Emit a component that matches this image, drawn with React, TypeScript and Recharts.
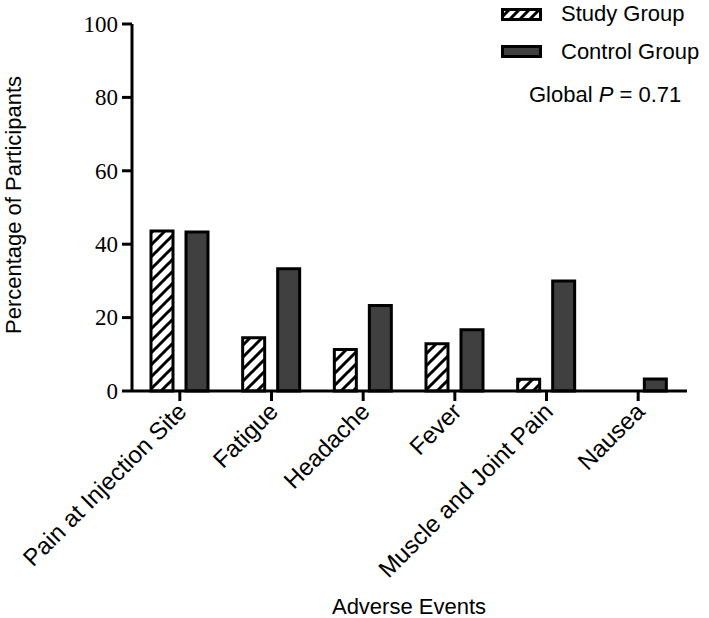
import React from "react";
import { BarChart, Bar, XAxis, YAxis } from "recharts";

const categories = [
  "Pain at Injection Site",
  "Fatigue",
  "Headache",
  "Fever",
  "Muscle and Joint Pain",
  "Nausea",
];
const studyGroup = [43.6, 14.5, 11.3, 12.9, 3.2, 0];
const controlGroup = [43.3, 33.3, 23.3, 16.7, 30.0, 3.3];
const yTicks = [0, 20, 40, 60, 80, 100];

const data = categories.map((name, i) => ({
  name,
  study: studyGroup[i],
  control: controlGroup[i],
}));

const SANS = "'Liberation Sans', Arial, sans-serif";
const SERIF = "'Liberation Serif', 'Times New Roman', serif";

const XTick = (props: any) => {
  const { x, y, payload } = props;
  return (
    <g transform={`translate(${x + 8},${y + 12})`}>
      <text
        x={0}
        y={0}
        textAnchor="end"
        transform="rotate(-45)"
        fontFamily={SANS}
        fontSize={24}
        fill="#000"
      >
        {payload.value}
      </text>
    </g>
  );
};

const YTick = (props: any) => {
  const { x, y, payload } = props;
  return (
    <text
      x={x - 2}
      y={y}
      dy="0.34em"
      textAnchor="end"
      fontFamily={SERIF}
      fontSize={23}
      fill="#000"
    >
      {payload.value}
    </text>
  );
};

const XLabel = () => (
  <text x={409} y={614} textAnchor="middle" fontFamily={SANS} fontSize={22} fill="#000">
    Adverse Events
  </text>
);

const YLabel = () => (
  <text
    transform="translate(21,205) rotate(-90)"
    textAnchor="middle"
    fontFamily={SANS}
    fontSize={22}
    fill="#000"
  >
    Percentage of Participants
  </text>
);

const LegendOverlay = () => (
  <svg width={220} height={110} style={{ position: "absolute", left: 489, top: 0, display: "block" }}>
    <defs>
      <pattern id="hatchLegend" patternUnits="userSpaceOnUse" width="10" height="10">
        <rect width="10" height="10" fill="#fff" />
        <path d="M-3,3 L3,-3 M0,10 L10,0 M7,13 L13,7" stroke="#000" strokeWidth="3" />
      </pattern>
    </defs>
    <rect x={13.5} y={9.5} width={38} height={10} fill="url(#hatchLegend)" stroke="#000" strokeWidth={3} />
    <rect x={13.5} y={46.5} width={38} height={10} fill="#404040" stroke="#000" strokeWidth={3} />
    <text x={72} y={21} fontFamily={SANS} fontSize={22} fill="#000">Study Group</text>
    <text x={72} y={59} fontFamily={SANS} fontSize={22} fill="#000">Control Group</text>
    <text x={40} y={102} fontFamily={SANS} fontSize={22} fill="#000">
      Global <tspan fontStyle="italic">P</tspan> = 0.71
    </text>
  </svg>
);

export default function App() {
  return (
    <div style={{ position: "absolute", left: 0, top: 0, width: 709, height: 618, background: "#fff" }}>
      <BarChart
        width={709}
        height={618}
        data={data}
        margin={{ top: 24, right: 22, left: 0, bottom: 0 }}
        barSize={22}
        barGap={13}
      >
        <defs>
          <pattern id="hatch" patternUnits="userSpaceOnUse" width="12" height="12">
            <rect width="12" height="12" fill="#fff" />
            <path d="M-3,3 L3,-3 M0,12 L12,0 M9,15 L15,9" stroke="#000" strokeWidth="3" />
          </pattern>
        </defs>
        <XAxis
          dataKey="name"
          height={227}
          interval={0}
          padding={{ left: 2, right: 3 }}
          axisLine={{ stroke: "#000", strokeWidth: 3 }}
          tickLine={{ stroke: "#000", strokeWidth: 3 }}
          tickSize={10}
          tickMargin={0}
          tick={<XTick />}
          label={<XLabel />}
        />
        <YAxis
          width={132}
          domain={[0, 100]}
          ticks={yTicks}
          interval={0}
          axisLine={{ stroke: "#000", strokeWidth: 3 }}
          tickLine={{ stroke: "#000", strokeWidth: 3 }}
          tickSize={10}
          tickMargin={2}
          tick={<YTick />}
          label={<YLabel />}
        />
        <Bar
          dataKey="study"
          name="Study Group"
          fill="url(#hatch)"
          stroke="#000"
          strokeWidth={3}
          isAnimationActive={false}
        />
        <Bar
          dataKey="control"
          name="Control Group"
          fill="#404040"
          stroke="#000"
          strokeWidth={3}
          isAnimationActive={false}
        />
      </BarChart>
      <LegendOverlay />
    </div>
  );
}
